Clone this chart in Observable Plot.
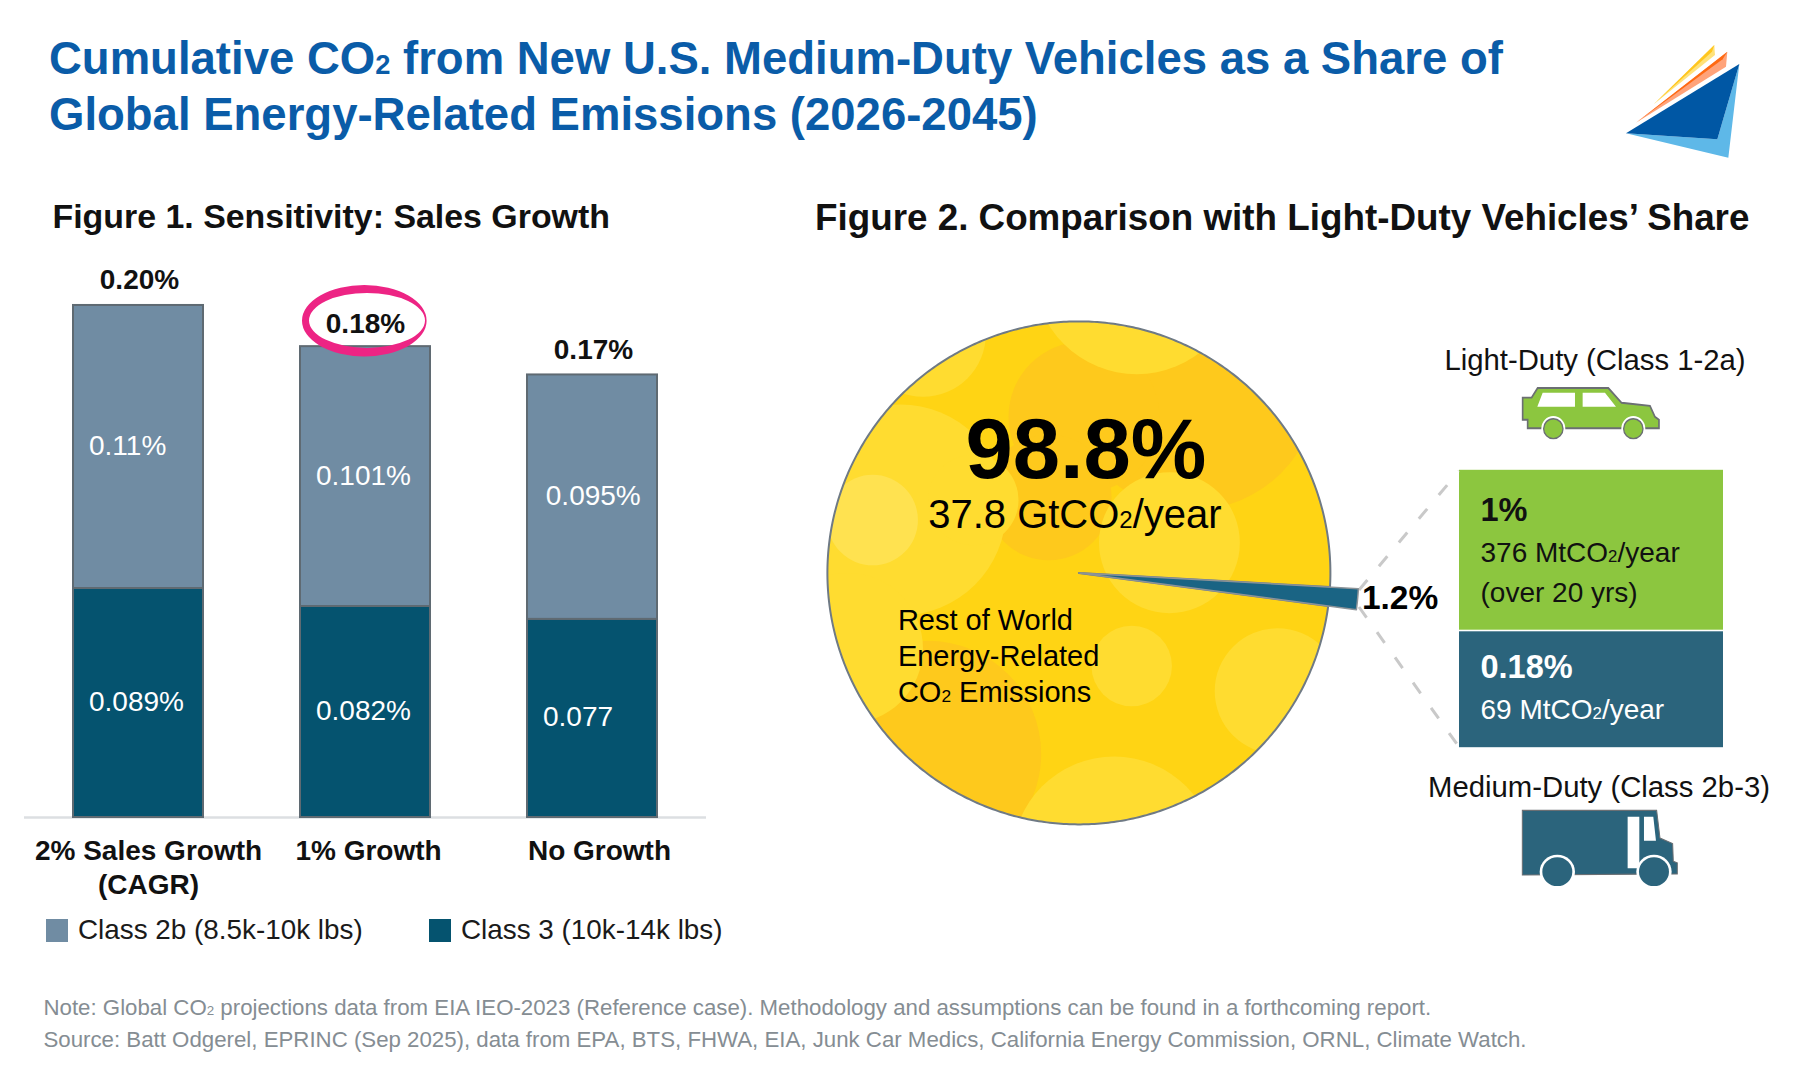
<!DOCTYPE html>
<html><head><meta charset="utf-8">
<script src="https://cdn.jsdelivr.net/npm/d3@7"></script>
<script src="https://cdn.jsdelivr.net/npm/@observablehq/plot@0.6"></script>
<style>
html,body{margin:0;padding:0;background:#fff;overflow:hidden}
#page{position:relative;width:1797px;height:1080px;font-family:"Liberation Sans",Arial,sans-serif;overflow:hidden}
.abs{position:absolute;white-space:nowrap}
.abs svg,#page>svg{display:block}
.sub{font-size:.6em;line-height:0}
#title{left:49px;top:30.5px;font-weight:700;font-size:45.5px;line-height:56.5px;color:#0A5CA8}
.fig{font-weight:700;color:#111;line-height:40px}
.sw{width:22px;height:23px}
.lg{font-size:27.85px;line-height:34px;color:#1a1a1a}
.cap{left:43.5px;font-size:22.25px;line-height:30px;color:#858d93}
.dl{font-size:29.3px;line-height:34px;color:#111;transform:translateX(-50%)}
</style></head><body>
<div id="page">
<div class="abs" id="title">Cumulative CO<span class="sub">2</span> from New U.S. Medium-Duty Vehicles as a Share of<br>Global Energy-Related Emissions (2026-2045)</div>
<div class="abs fig" style="left:52.5px;top:196px;font-size:33.9px">Figure 1. Sensitivity: Sales Growth</div>
<div class="abs fig" style="left:815px;top:198px;font-size:36.8px">Figure 2. Comparison with Light-Duty Vehicles’ Share</div>
<div class="abs sw" style="left:46px;top:919px;background:#708CA3"></div>
<div class="abs lg" style="left:78px;top:912.5px">Class 2b (8.5k-10k lbs)</div>
<div class="abs sw" style="left:429px;top:919px;background:#05536F"></div>
<div class="abs lg" style="left:461px;top:912.5px">Class 3 (10k-14k lbs)</div>
<div class="abs dl" style="left:1595px;top:343px">Light-Duty (Class 1-2a)</div>
<div class="abs dl" style="left:1599px;top:770px">Medium-Duty (Class 2b-3)</div>
<div class="abs cap" style="top:993px">Note: Global CO<span class="sub">2</span> projections data from EIA IEO-2023 (Reference case). Methodology and assumptions can be found in a forthcoming report.</div>
<div class="abs cap" style="top:1025px">Source: Batt Odgerel, EPRINC (Sep 2025), data from EPA, BTS, FHWA, EIA, Junk Car Medics, California Energy Commission, ORNL, Climate Watch.</div>
</div>
<script>
const scenarios = ["2% Sales Growth\n(CAGR)", "1% Growth", "No Growth"];
const classes = ["Class 3", "Class 2b"];
const class3Values = [0.089, 0.082, 0.077];
const class2bValues = [0.11, 0.101, 0.095];
const class3Labels = ["0.089%", "0.082%", "0.077"];
const class2bLabels = ["0.11%", "0.101%", "0.095%"];
const totalLabels = ["0.20%", "0.18%", "0.17%"];
const classColors = ["#05536F", "#708CA3"];

const pieNames = ["Rest of World", "U.S. Vehicles"];
const pieShares = [98.8, 1.2];
const dutyNames = ["Medium-Duty", "Light-Duty"];
const dutyShares = [0.18, 1];
const dutyColors = ["#2B647C", "#8CC63F"];

// texture of the pie: [x, y, radius] in pie radii, darker then lighter
const blotchDark = [[0.45,0.75,0.5],[0.02,0.62,0.3],[-0.12,0.3,0.25],[-0.6,-0.72,0.45]];
const blotchLight = [[-0.71,0.25,0.42],[-0.42,0.29,0.18],[0.23,1.2,0.41],[0.36,0.12,0.28],[0.79,-0.47,0.25],
  [0.21,-0.37,0.16],[0.14,-1.135,0.405],[-0.92,-0.3,0.3],[-0.62,0.95,0.25]];
const blotchPale = [[-0.82,0.21,0.18]];

const page = document.getElementById("page");
function place(node, left, top) {
  const d = document.createElement("div");
  d.className = "abs"; d.style.left = left + "px"; d.style.top = top + "px";
  d.appendChild(node); page.appendChild(d);
}
// Draw the "2" of CO2 as a small baseline figure, as the reference does
function smallTwos(svg) {
  svg.querySelectorAll("text,tspan").forEach(el => {
    if (el.children.length || !el.textContent.includes("CO2")) return;
    const [a, b] = el.textContent.split("CO2");
    el.textContent = "";
    const ns = "http://www.w3.org/2000/svg";
    el.append(a + "CO");
    const t = document.createElementNS(ns, "tspan");
    t.setAttribute("font-size", "0.6em");
    t.textContent = "2";
    el.append(t, b);
  });
}
const baseStyle = {background:"transparent", overflow:"visible", maxWidth:"none",
  fontFamily:'"Liberation Sans",Arial,sans-serif'};

/* ---------- Figure 1 ---------- */
const rows = classes.flatMap((c, k) => scenarios.map((s, i) => {
  const value = (k === 0 ? class3Values : class2bValues)[i];
  const base = k === 0 ? 0 : class3Values[i];
  return {scenario: s, cls: c, value, mid: base + value / 2, label: (k === 0 ? class3Labels : class2bLabels)[i]};
}));
const tops = scenarios.map((s, i) => ({scenario: s, total: class3Values[i] + class2bValues[i], label: totalLabels[i]}));
const stackOpts = {x: "scenario", y: "value", z: "cls", order: classes};
const textOpts = {x: "scenario", y: "mid", text: "label", textAnchor: "start", fill: "white", fontSize: 28, dy: -1};
const totalOpts = {x: "scenario", y: "total", text: "label", fontSize: 28, fontWeight: 700, fill: "#111"};
const axis = (i, dx) => Plot.axisX({ticks: [scenarios[i]], tickSize: 0, tickPadding: 18, dx, label: null,
  fontSize: 28, fontWeight: 700, fill: "#111", lineHeight: 1.23, lineAnchor: "top", textOverflow: null});

const bars = Plot.plot({
  width: 706, height: 1000, marginLeft: 24, marginRight: 0, marginTop: 302.4, marginBottom: 183,
  style: baseStyle,
  x: {domain: scenarios, paddingInner: 0.42, paddingOuter: 0.21, label: null},
  y: {domain: [0, 0.2], axis: null},
  color: {domain: classes, range: classColors},
  marks: [
    Plot.ruleY([0], {stroke: "#dcdfe2", strokeWidth: 2.5}),
    Plot.barY(rows, Plot.stackY({...stackOpts, fill: "cls", stroke: "#5f6a72", strokeWidth: 2, insetLeft: 1, insetRight: 1})),
    Plot.text(rows, {...textOpts, dx: -49.5, filter: d => d.label !== "0.095%"}),
    Plot.text(rows, {...textOpts, dx: -46.7, filter: d => d.label === "0.095%"}),
    Plot.text(tops, {...totalOpts, dx: 1, dy: -25, filter: d => d.label !== "0.18%"}),
    Plot.text(tops, {...totalOpts, dx: 0, dy: -23, filter: d => d.label === "0.18%"}),
    axis(0, 10), axis(1, 3), axis(2, 7)
  ]
});
place(bars, 0, 0);

/* ---------- Figure 2: pie ---------- */
const tilt = 97.56 * Math.PI / 180;
const arcs = d3.pie().sort(null).startAngle(tilt).endAngle(tilt + 2 * Math.PI)(pieShares);
function wedge(a, radius) {
  const pts = [{x: 0, y: 0}];
  const n = Math.max(2, Math.ceil((a.endAngle - a.startAngle) * 90));
  for (let i = 0; i <= n; i++) {
    const t = a.startAngle + (a.endAngle - a.startAngle) * i / n;
    pts.push({x: radius * Math.sin(t), y: radius * Math.cos(t)});
  }
  pts.push({x: 0, y: 0});
  return pts;
}
const rest = wedge(arcs[0], 1), part = wedge(arcs[1], 1.113);
const dots = list => list.map(([x, y, r]) => ({x, y, r}));
const half = 1.6, unit = 251.5, side = 2 * half * unit;
const blot = (list, fill) => Plot.dot(dots(list), {x: "x", y: "y", r: "r", fill, stroke: null});
const big = (text, dx, dy, o = {}) => Plot.text([text], {frameAnchor: "middle", text: d => d, dx, dy, fill: "#000", fontSize: 29, ...o});

const pie = Plot.plot({
  width: side, height: side, margin: 0, style: baseStyle,
  x: {domain: [-half, half], axis: null},
  y: {domain: [-half, half], axis: null},
  r: {type: "linear", domain: [0, half], range: [0, half * unit]},
  marks: [
    Plot.line(rest, {x: "x", y: "y", fill: "#FFD414", stroke: null}),
    blot(blotchDark, "#FEC91C"),
    blot(blotchLight, "#FFDC30"),
    blot(blotchPale, "#FFE250"),
    Plot.line(rest, {x: "x", y: "y", stroke: "#6f7a85", strokeWidth: 2, strokeLinejoin: "round"}),
    Plot.line(part, {x: "x", y: "y", fill: "#1A6484", stroke: "#8c9398", strokeWidth: 1.5}),
    big("98.8%", 7, -122, {fontSize: 85, fontWeight: 700}),
    big("37.8 GtCO2/year", -4, -57.5, {fontSize: 40}),
    big("Rest of World\nEnergy-Related\nCO2 Emissions", -181, 81.7, {textAnchor: "start", lineHeight: 1.24}),
    big("1.2%", 283, 25, {textAnchor: "start", fontSize: 33.5, fontWeight: 700})
  ]
});
const clipId = "pie-clip";
const ns = "http://www.w3.org/2000/svg";
const defs = document.createElementNS(ns, "defs");
const cp = document.createElementNS(ns, "clipPath"); cp.setAttribute("id", clipId);
const cc = document.createElementNS(ns, "circle");
cc.setAttribute("cx", side / 2); cc.setAttribute("cy", side / 2); cc.setAttribute("r", unit);
cp.appendChild(cc); defs.appendChild(cp); pie.insertBefore(defs, pie.firstChild);
pie.querySelectorAll('g[aria-label="dot"]').forEach(g => g.setAttribute("clip-path", `url(#${clipId})`));
smallTwos(pie);

/* ---------- Figure 2: boxes ---------- */
const duty = dutyNames.map((n, i) => ({name: n, share: dutyShares[i], fill: dutyColors[i]}));
const boxText = (t, dy, fill, o = {}) => Plot.text([t], {frameAnchor: "top-left", text: d => d, dx: 21, dy,
  lineAnchor: "middle", fill, fontSize: 28, ...o});
const boxes = Plot.plot({
  width: 264.5, height: 279, margin: 0, style: baseStyle,
  x: {axis: null, domain: ["share"], padding: 0},
  y: {axis: null, type: "linear", domain: [0, dutyShares[0], dutyShares[0] + dutyShares[1]], range: [279, 161.5, 0]},
  color: {type: "identity"},
  marks: [
    Plot.barY(duty, Plot.stackY({x: () => "share", y: "share", fill: "fill", order: dutyNames, insetBottom: 0.8, insetTop: 0.8})),
    boxText("1%", 41, "#111", {fontSize: 32.5, fontWeight: 700}),
    boxText("376 MtCO2/year", 83.5, "#111"),
    boxText("(over 20 yrs)", 123.5, "#111"),
    boxText("0.18%", 198, "#fff", {fontSize: 32.5, fontWeight: 700}),
    boxText("69 MtCO2/year", 240.5, "#fff")
  ]
});
smallTwos(boxes);
place(boxes, 1459, 469);

/* ---------- Pictorial annotations: logo, vehicle icons, circle, connectors ---------- */
const overlay = `
<svg class="abs" style="left:0;top:0;overflow:visible" width="1797" height="1080" viewBox="0 0 1797 1080">
  <g stroke="#c9c9c9" stroke-width="3" stroke-dasharray="13 18" fill="none">
    <path d="M1359,590 L1459,471"/><path d="M1359,607 L1459,747"/>
  </g>
  <path fill-rule="evenodd" fill="#ED2484" d="M302,320.7a62.3,35.7 0 1,0 124.6,0a62.3,35.7 0 1,0 -124.6,0Z M309,320.4a58,27.5 0 1,0 116,0a58,27.5 0 1,0 -116,0Z"/>
  <g transform="translate(1580,20) scale(.3333)">
    <path fill="#FFE27A" d="M403,75L222,252L405,105Z"/>
    <path fill="#FFC61E" d="M403,75L222,252L396,95Z"/>
    <path fill="#FFA37A" d="M442,95L168,308L438,140Z"/>
    <path fill="#FF6A13" d="M442,95L168,308L428,118Z"/>
    <path fill="#5EB8E8" d="M478,132L412,358L138,340L445,413Z"/>
    <path fill="#0057A4" d="M478,132L138,340L412,358Z"/>
  </g>
  <g transform="translate(1400,330) scale(.3333,.3695)">
    <path fill="#8CC63F" stroke="#6b6f73" stroke-width="5" d="M368,183L395,183L413,157L625,157L665,197L750,205L765,235L777,243L777,266L383,266L383,243L368,243Z"/>
    <path fill="#fff" d="M412,208L428,170L525,170L525,208Z M548,170L615,170L648,208L548,208Z"/>
    <ellipse cx="460" cy="267" rx="36" ry="34" fill="#fff"/><ellipse cx="700" cy="267" rx="36" ry="34" fill="#fff"/>
    <ellipse cx="460" cy="267" rx="29" ry="27" fill="#8CC63F" stroke="#6b6f73" stroke-width="4"/>
    <ellipse cx="700" cy="267" rx="29" ry="27" fill="#8CC63F" stroke="#6b6f73" stroke-width="4"/>
  </g>
  <g transform="translate(1400,330) scale(.3333,.3695)">
    <path fill="#2B647C" stroke="#6b6f73" stroke-width="3" d="M367,1300L770,1300L780,1375L818,1390L820,1438L832,1442L832,1472L367,1475Z"/>
    <path fill="#fff" d="M683,1317L718,1317L718,1457L683,1457Z M732,1317L760,1317L768,1382L732,1382Z"/>
    <ellipse cx="472" cy="1466" rx="53" ry="46" fill="#fff"/><ellipse cx="762" cy="1466" rx="53" ry="46" fill="#fff"/>
    <ellipse cx="472" cy="1466" rx="45" ry="39" fill="#2B647C"/><ellipse cx="762" cy="1466" rx="45" ry="39" fill="#2B647C"/>
  </g>
</svg>`;
page.insertAdjacentHTML("beforeend", overlay);
place(pie, 1078 - side / 2, 572 - side / 2);
</script>
</body></html>
